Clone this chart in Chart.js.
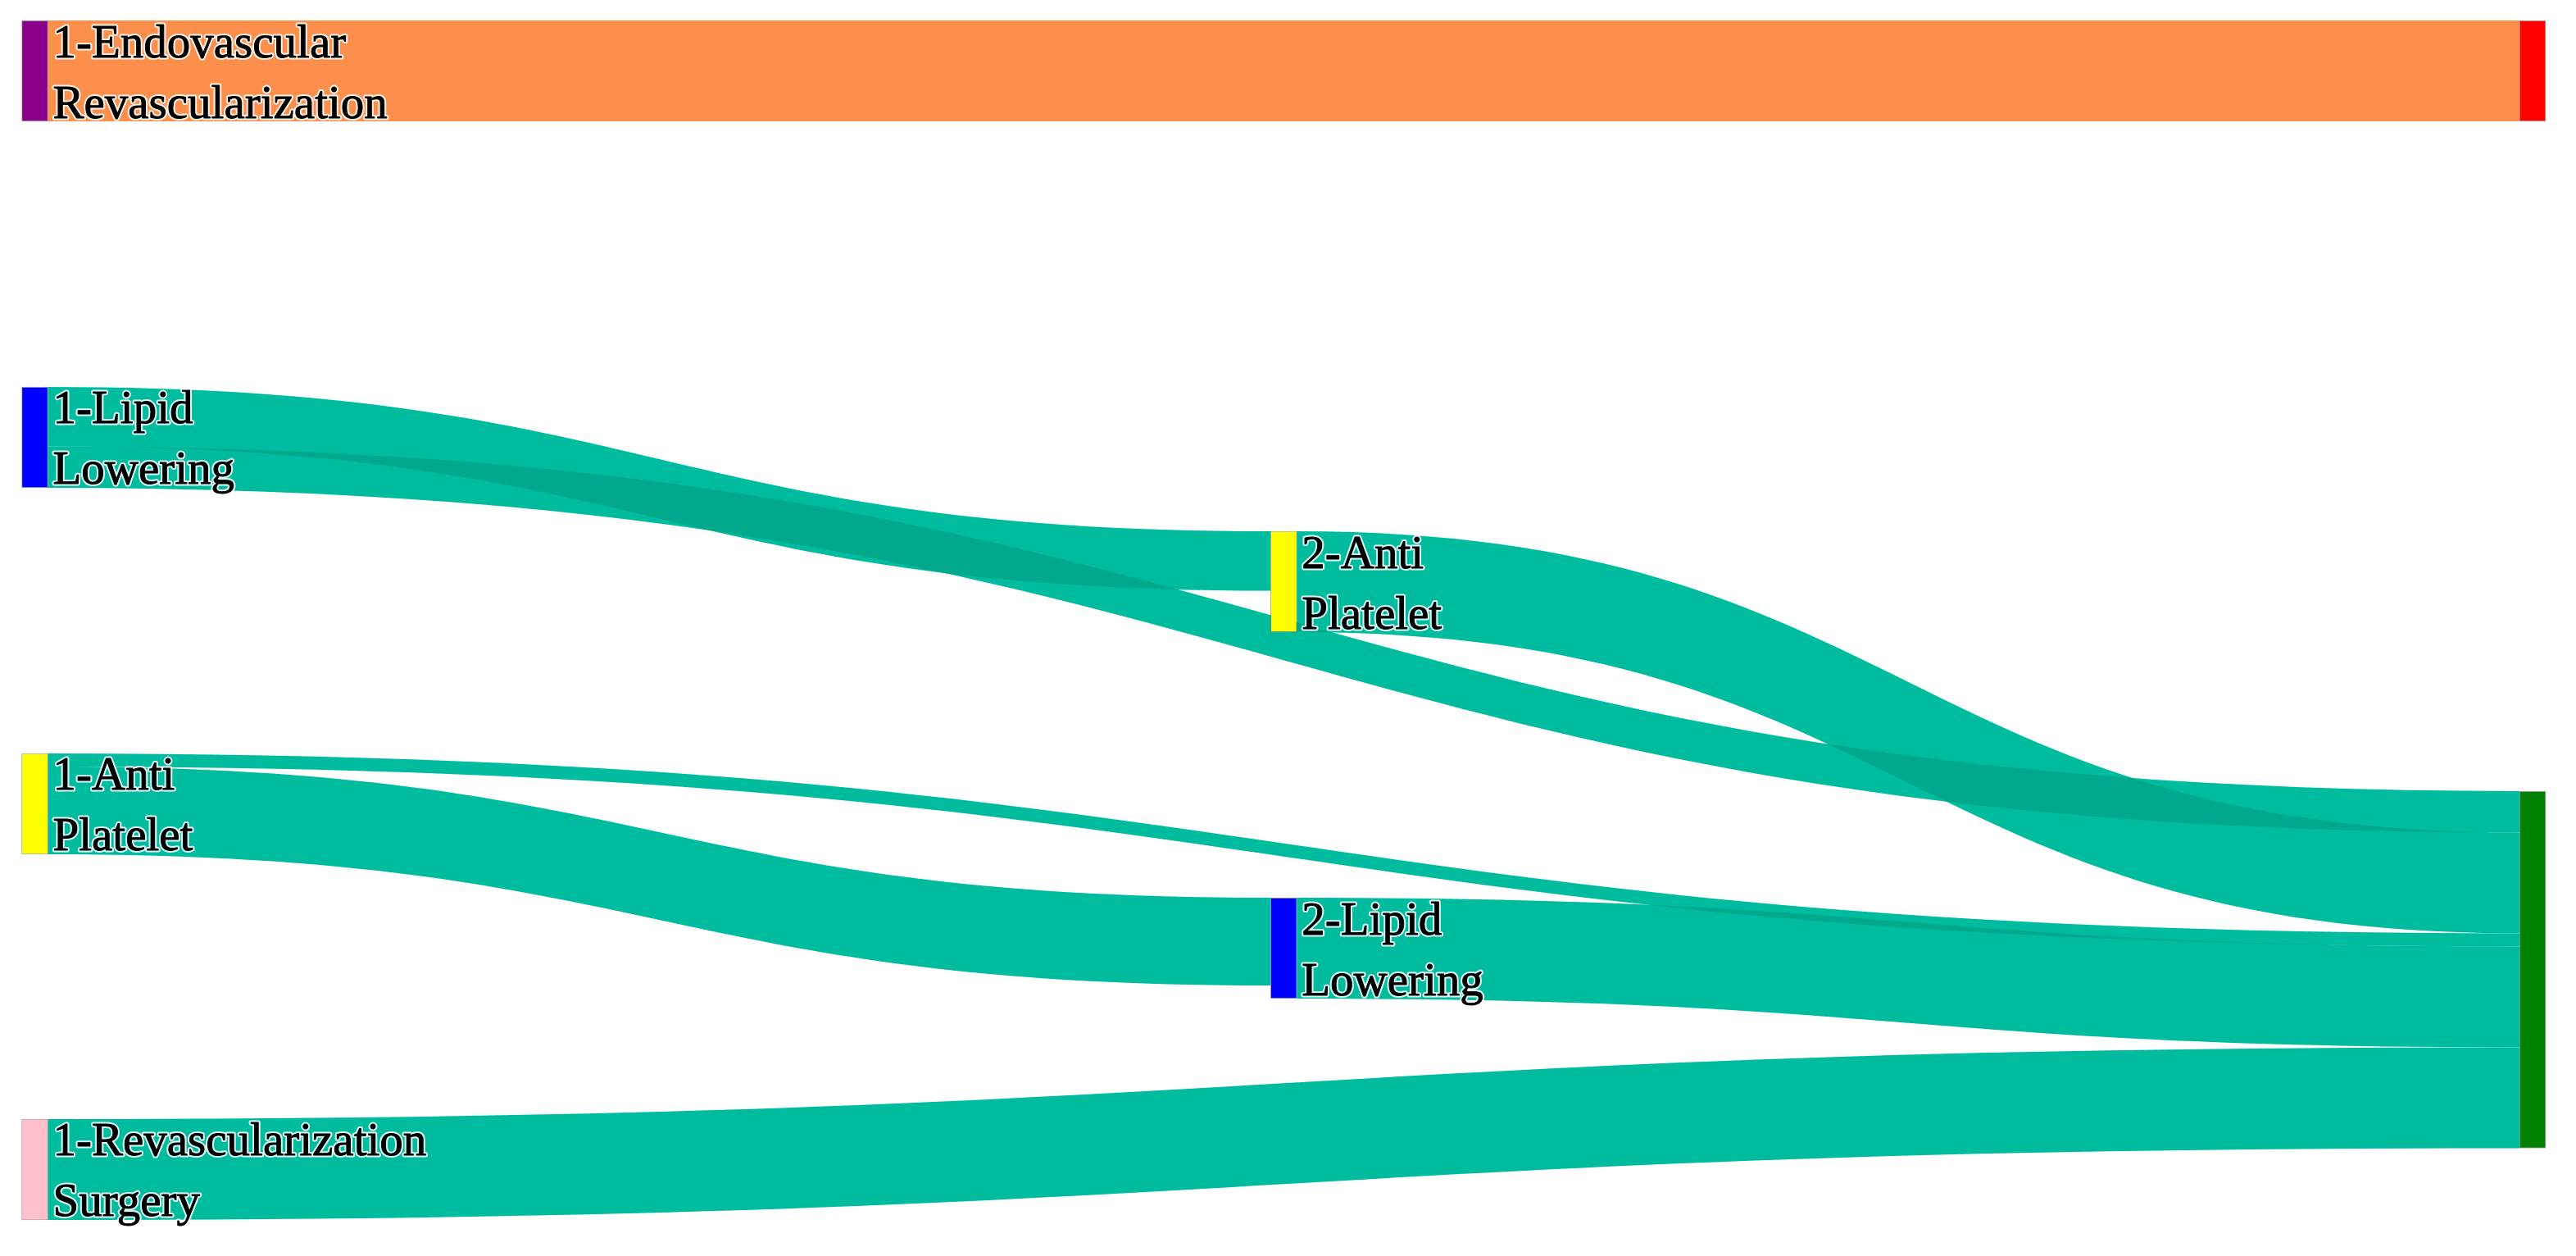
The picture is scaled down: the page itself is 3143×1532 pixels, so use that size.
<!DOCTYPE html>
<html><head><meta charset="utf-8">
<script src="https://cdn.jsdelivr.net/npm/chart.js@4.4.1/dist/chart.umd.min.js"></script>
<style>html,body{margin:0;padding:0;background:#fff;}#wrap{width:3143px;height:1532px;position:relative;}</style>
</head><body><div id="wrap"><canvas id="c"></canvas></div>
<script>
// ---- data ----
const nodeLabels = [
  ["1-Endovascular","Revascularization"],
  ["1-Lipid","Lowering"],
  ["1-Anti","Platelet"],
  ["1-Revascularization","Surgery"],
  ["2-Anti","Platelet"],
  ["2-Lipid","Lowering"],
  [],
  []
];
const nodeColors = ['#8B008B','#0000FF','#FFFF00','#FFC0CB','#FFFF00','#0000FF','#FF0000','#008000'];
const linkSources = [0, 1, 1, 2, 2, 3, 4, 5];
const linkTargets = [6, 4, 7, 7, 5, 7, 7, 7];
const linkValues  = [100, 59, 41, 13, 87, 100, 100, 100];
const linkKinds   = ['orange','teal','teal','teal','teal','teal','teal','teal'];

// ---- layout (node columns and tops in value units) ----
const nodeColumn = [0, 0, 0, 0, 1, 1, 2, 2];
const nodeTop    = [0, 363.4, 726.8, 1089.4, 506.5, 869.9, 0, 764.2];
const Y_MAX = 1189.4;
const NODE_W = 32;

// node sizes = max(in, out)
const nIn = nodeColors.map(()=>0), nOut = nodeColors.map(()=>0);
linkValues.forEach((v,i)=>{ nOut[linkSources[i]] += v; nIn[linkTargets[i]] += v; });
const nodeSize = nodeColors.map((_,i)=>Math.max(nIn[i], nOut[i]));

// link offsets: outgoing sorted by target top, incoming sorted by source top
const outOff = new Array(linkValues.length), inOff = new Array(linkValues.length);
nodeColors.forEach((_,n)=>{
  const outs = linkValues.map((v,i)=>i).filter(i=>linkSources[i]===n).sort((a,b)=>nodeTop[linkTargets[a]]-nodeTop[linkTargets[b]]);
  let o = 0; outs.forEach(i=>{ outOff[i]=o; o+=linkValues[i]; });
  const ins = linkValues.map((v,i)=>i).filter(i=>linkTargets[i]===n).sort((a,b)=>nodeTop[linkSources[a]]-nodeTop[linkSources[b]]);
  o = 0; ins.forEach(i=>{ inOff[i]=o; o+=linkValues[i]; });
});

const STYLE = {
  orange: {base:'#FC8F4B', shade:null},
  teal:   {base:'rgb(0,211,179)', shade:'rgba(0,60,40,0.15)'}
};

function linkPath(ctx, chart, i){
  const xs = chart.scales.x, ys = chart.scales.y;
  const s = linkSources[i], t = linkTargets[i], v = linkValues[i];
  const x0 = xs.getPixelForValue(nodeColumn[s]) + NODE_W/2;
  const x1 = xs.getPixelForValue(nodeColumn[t]) - NODE_W/2;
  const y0a = ys.getPixelForValue(nodeTop[s] + outOff[i]);
  const y0b = ys.getPixelForValue(nodeTop[s] + outOff[i] + v);
  const y1a = ys.getPixelForValue(nodeTop[t] + inOff[i]);
  const y1b = ys.getPixelForValue(nodeTop[t] + inOff[i] + v);
  const xm = (x0 + x1) / 2;
  ctx.beginPath();
  ctx.moveTo(x0, y0a);
  ctx.bezierCurveTo(xm, y0a, xm, y1a, x1, y1a);
  ctx.lineTo(x1, y1b);
  ctx.bezierCurveTo(xm, y1b, xm, y0b, x0, y0b);
  ctx.closePath();
}

const sankeyPlugin = {
  id: 'sankeyLinks',
  beforeDatasetsDraw(chart){
    const ctx = chart.ctx;
    ctx.save();
    linkValues.forEach((v,i)=>{ linkPath(ctx, chart, i); ctx.fillStyle = STYLE[linkKinds[i]].base; ctx.fill(); });
    linkValues.forEach((v,i)=>{ const sh = STYLE[linkKinds[i]].shade; if(!sh) return; linkPath(ctx, chart, i); ctx.fillStyle = sh; ctx.fill(); });
    ctx.restore();
  },
  afterDatasetsDraw(chart){
    const ctx = chart.ctx, xs = chart.scales.x, ys = chart.scales.y;
    ctx.save();
    ctx.font = '57px "Liberation Serif", "Times New Roman", serif';
    ctx.textBaseline = 'alphabetic';
    ctx.textAlign = 'left';
    ctx.lineJoin = 'round';
    nodeLabels.forEach((lines, n)=>{
      if(!lines.length) return;
      const x = xs.getPixelForValue(nodeColumn[n]) + NODE_W/2 + 6;
      const cy = ys.getPixelForValue(nodeTop[n] + nodeSize[n]/2);
      const lh = 74;
      lines.forEach((txt, k)=>{
        const by = cy - 17 + k*lh;
        ctx.strokeStyle = 'rgba(255,255,255,0.85)';
        ctx.lineWidth = 5;
        ctx.strokeText(txt, x, by);
        ctx.fillStyle = '#000';
        ctx.fillText(txt, x, by);
        ctx.strokeStyle = '#000';
        ctx.lineWidth = 0.9;
        ctx.strokeText(txt, x, by);
      });
    });
    ctx.restore();
  }
};

new Chart(document.getElementById('c'), {
  type: 'bar',
  data: {
    datasets: [{
      data: nodeColors.map((_,i)=>({x: nodeColumn[i], y: [nodeTop[i], nodeTop[i] + nodeSize[i]]})),
      backgroundColor: nodeColors,
      borderColor: 'rgba(110,110,110,0.55)',
      borderWidth: 1,
      borderSkipped: false,
      barThickness: NODE_W,
      clip: false
    }]
  },
  options: {
    responsive: true,
    maintainAspectRatio: false,
    animation: false,
    layout: {padding: {left: 42.5, right: 53, top: 25, bottom: 44}},
    plugins: {legend: {display: false}, tooltip: {enabled: false}},
    scales: {
      x: {type: 'linear', display: false, min: 0, max: 2, offset: false},
      y: {type: 'linear', display: false, min: 0, max: Y_MAX, reverse: true}
    }
  },
  plugins: [sankeyPlugin]
});
</script>
</body></html>
